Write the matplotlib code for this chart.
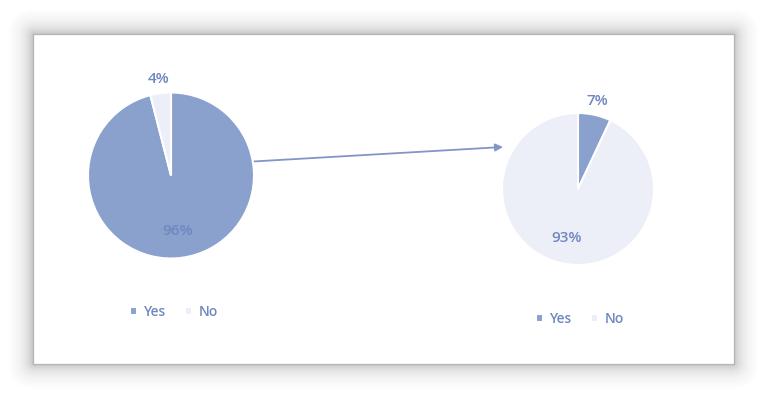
import numpy as np
import matplotlib.pyplot as plt
from matplotlib.patches import FancyBboxPatch, Rectangle

plt.rcParams['font.family'] = ['Open Sans', 'DejaVu Sans']

# data
labels = ["Yes", "No"]
before = [96, 4]
after = [7, 93]

yes_color = "#8aa0cd"
no_color = "#eceff8"
txt_color = "#6f88bf"

W, H = 765, 395
fig = plt.figure(figsize=(W / 100, H / 100), dpi=100)
fig.patch.set_facecolor("white")

# background axes in pixel coords (y down)
bg = fig.add_axes([0, 0, 1, 1])
bg.set_xlim(0, W)
bg.set_ylim(H, 0)
bg.axis("off")

# card with soft shadow
cx0, cy0, cx1, cy1 = 33, 34, 734, 364
for i in range(32, 0, -1):
    a = 0.024 * np.exp(-i / 10)
    bg.add_patch(FancyBboxPatch((cx0, cy0), cx1 - cx0, cy1 - cy0,
                                boxstyle=f"round,pad={i},rounding_size={i + 2}",
                                fc="black", ec="none", alpha=a, zorder=1))
bg.add_patch(Rectangle((cx0, cy0), cx1 - cx0, cy1 - cy0,
                       fc="white", ec="#b5b5b5", lw=0.9, zorder=2))


def pie_axes(cx, cy, r):
    return fig.add_axes([(cx - r) / W, (H - cy - r) / H, 2 * r / W, 2 * r / H])


def draw_pie(ax, vals, dists):
    wedges, _ = ax.pie(vals, colors=[yes_color, no_color], startangle=90,
                       counterclock=False,
                       wedgeprops=dict(edgecolor="white", linewidth=1.5))
    for w, v, d in zip(wedges, vals, dists):
        mid = np.deg2rad((w.theta1 + w.theta2) / 2)
        ax.text(d * np.cos(mid), d * np.sin(mid), f"{v}%", ha="center",
                va="center", fontsize=11, color=txt_color, fontweight="semibold")
    ax.set_xlim(-1, 1)
    ax.set_ylim(-1, 1)
    ax.axis("off")
    return wedges


ax1 = pie_axes(171, 175.5, 83)
w1 = draw_pie(ax1, before, [0.67, 1.17])
ax2 = pie_axes(578, 189, 76)
w2 = draw_pie(ax2, after, [1.18, 0.66])

for wedges, (lx, ly) in [(w1, (174, 312)), (w2, (580, 319))]:
    fig.legend(wedges, labels, ncol=2, frameon=False, loc="center",
               bbox_to_anchor=(lx / W, 1 - ly / H), fontsize=10,
               labelcolor=txt_color, handlelength=0.5, handleheight=0.5,
               handletextpad=0.5, columnspacing=1.4, borderpad=0,
               prop=dict(size=10, weight="semibold"))

# arrow between pies
bg.annotate("", xy=(503, 147), xytext=(253, 161.5),
            arrowprops=dict(arrowstyle="-|>", color="#8196c6", lw=1.3,
                            mutation_scale=11, shrinkA=0, shrinkB=0), zorder=5)

fig.savefig("out.png", dpi=100, facecolor="white")
